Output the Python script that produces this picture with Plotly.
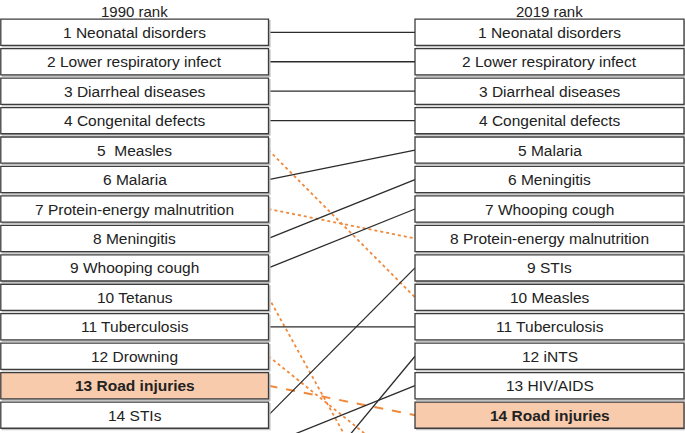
import plotly.graph_objects as go

# ---------------- data ----------------
year_labels = ["1990 rank", "2019 rank"]

causes_1990 = ["Neonatal disorders", "Lower respiratory infect", "Diarrheal diseases",
               "Congenital defects", " Measles", "Malaria", "Protein-energy malnutrition",
               "Meningitis", "Whooping cough", "Tetanus", "Tuberculosis", "Drowning",
               "Road injuries", "STIs"]
causes_2019 = ["Neonatal disorders", "Lower respiratory infect", "Diarrheal diseases",
               "Congenital defects", "Malaria", "Meningitis", "Whooping cough",
               "Protein-energy malnutrition", "STIs", "Measles", "Tuberculosis", "iNTS",
               "HIV/AIDS", "Road injuries"]

# connections: cause, rank in 1990, rank in 2019
link_causes = ["Neonatal disorders", "Lower respiratory infect", "Diarrheal diseases",
               "Congenital defects", "Measles", "Malaria", "Protein-energy malnutrition",
               "Meningitis", "Whooping cough", "Tetanus", "Tuberculosis", "Drowning",
               "Road injuries", "STIs", "HIV/AIDS", "iNTS"]
link_rank_1990 = [1, 2, 3, 4, 5, 6, 7, 8, 9, 10, 11, 12, 13, 14, 15, 18]
link_rank_2019 = [1, 2, 3, 4, 10, 5, 8, 6, 7, 19, 11, 16, 14, 9, 13, 12]

highlight = "Road injuries"

# ---------------- layout constants ----------------
W, H = 685, 433
PITCH = 29.45          # px per rank
TOP1 = 32.3            # px center of rank 1
LX0, LX1 = 0.8, 268.5  # left column box x extent
RX0, RX1 = 415.0, 684.0
HALF = 0.445           # half box height in rank units

def px_to_rank(p):
    return 1 + (p - TOP1) / PITCH

y_top = px_to_rank(0)
y_bot = px_to_rank(H)

ORANGE = "#F0893B"
PEACH = "#F8CBAD"
DARK = "#2b2b2b"
BORDER = "#3c3c3c"
SHADOW = "#c2c2c2"
FONT = "Liberation Sans, Arial, Helvetica, sans-serif"

fig = go.Figure()

# connecting lines
for c, r0, r1 in zip(link_causes, link_rank_1990, link_rank_2019):
    if c == highlight:
        line = dict(color=ORANGE, width=2, dash="dash")
    elif r1 > r0:
        line = dict(color=ORANGE, width=1.8, dash="dot")
    else:
        line = dict(color=DARK, width=1.3)
    fig.add_trace(go.Scatter(x=[LX1, RX0], y=[r0, r1], mode="lines", line=line,
                             hoverinfo="skip", showlegend=False))

shapes = []
annotations = []
dy = 1.5 / PITCH
for col, (x0, x1, names) in enumerate([(LX0, LX1, causes_1990), (RX0, RX1, causes_2019)]):
    for i, name in enumerate(names):
        r = i + 1
        hl = name.strip() == highlight
        # shadow
        shapes.append(dict(type="rect", xref="x", yref="y", x0=x0 + 1.5, x1=x1 + 1.5,
                           y0=r - HALF + dy, y1=r + HALF + dy,
                           line=dict(color=SHADOW, width=1.2), fillcolor=SHADOW, layer="above"))
        shapes.append(dict(type="rect", xref="x", yref="y", x0=x0, x1=x1,
                           y0=r - HALF, y1=r + HALF,
                           line=dict(color=BORDER, width=1.3),
                           fillcolor=PEACH if hl else "white", layer="above"))
        label = f"{r} {name}"
        if hl:
            label = f"<b>{label}</b>"
        annotations.append(dict(x=(x0 + x1) / 2, y=r, xref="x", yref="y", text=label,
                                showarrow=False, font=dict(size=15.5, color="#222222", family=FONT),
                                xanchor="center", yanchor="middle"))
    annotations.append(dict(x=(x0 + x1) / 2, y=px_to_rank(11.5), xref="x", yref="y",
                            text=year_labels[col], showarrow=False,
                            font=dict(size=15, color="#222222", family=FONT),
                            xanchor="center", yanchor="middle"))

fig.update_layout(
    width=W, height=H,
    margin=dict(l=0, r=0, t=0, b=0),
    paper_bgcolor="white", plot_bgcolor="white",
    shapes=shapes, annotations=annotations,
    xaxis=dict(range=[0, W], visible=False, fixedrange=True),
    yaxis=dict(range=[y_bot, y_top], visible=False, fixedrange=True),
    showlegend=False,
)

fig.write_html("out.html", config=dict(displayModeBar=False),
               post_script="document.body.style.margin='0';")
